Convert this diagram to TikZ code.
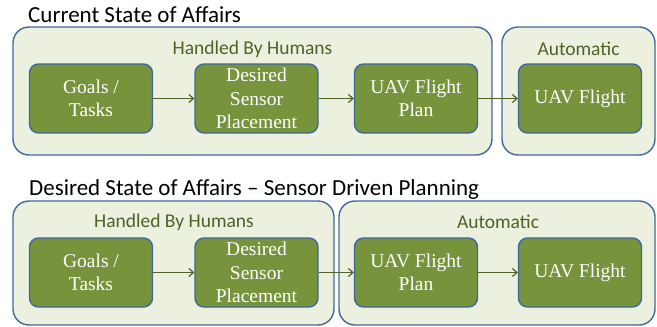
\documentclass[tikz,border=0pt]{standalone}
\usepackage{fontspec}
\setmainfont{Liberation Serif}
\newfontfamily\calibri{Carlito}
\usepackage{xcolor}
\usetikzlibrary{positioning, arrows.meta}
\definecolor{panelfill}{HTML}{EBF1DE}
\definecolor{panelline}{HTML}{41689A}
\definecolor{taskfill}{HTML}{77933C}
\definecolor{oliveink}{HTML}{4F6228}

\tikzset{
  panel/.style={draw=panelline, line width=1.4pt, fill=panelfill,
                rounded corners=16pt},
  taskbox/.style={draw=panelline, line width=1.4pt, fill=taskfill,
                  rounded corners=9pt, minimum width=123pt, minimum height=69pt,
                  inner sep=0pt, align=center, text=white,
                  font=\fontsize{19.5}{23.5}\selectfont},
  panellabel/.style={text=oliveink, font=\calibri\fontsize{19.5}{23}\selectfont},
  heading/.style={anchor=base west, inner sep=0pt,
                  font=\calibri\fontsize{23}{26}\selectfont},
  flow/.style={draw=oliveink, line width=1.2pt,
               -{Straight Barb[length=4.5pt,width=8pt]}}
}

\begin{document}
\begin{tikzpicture}[x=1pt, y=-1pt]
    \useasboundingbox (0,0) rectangle (657,327);

    % current state
    \node[heading] (curtitle) at (28,22.7) {Current State of Affairs};
    \node[panel, minimum width=479pt, minimum height=128pt] (curhumans) at (252.5,91) {};
    \node[panel, minimum width=153pt, minimum height=128pt] (curauto) at (578.5,91) {};
    \node[panellabel] (curhumanslbl) at (252.5,49) {Handled By Humans};
    \node[panellabel] (curautolbl) at (578.5,49) {Automatic};

    \node[taskbox] (curgoals) at (91,98.5) {Goals /\\Tasks};
    \node[taskbox] (curplace) at (256.5,98.5) {Desired\\Sensor\\Placement};
    \node[taskbox] (curplan) at (416,98.5) {UAV Flight\\Plan};
    \node[taskbox] (curflight) at (580,98.5) {UAV Flight};

    \draw[flow] (curgoals) -- (curplace);
    \draw[flow] (curplace) -- (curplan);
    \draw[flow] (curplan) -- (curflight);

    % desired state
    \node[heading] (destitle) at (29,195) {Desired State of Affairs – Sensor Driven Planning};
    \node[panel, minimum width=321pt, minimum height=124pt] (deshumans) at (173.5,263) {};
    \node[panel, minimum width=316pt, minimum height=124pt] (desauto) at (497,263) {};
    \node[panellabel] (deshumanslbl) at (174,222) {Handled By Humans};
    \node[panellabel] (desautolbl) at (498,222) {Automatic};

    \node[taskbox] (desgoals) at (91,272.5) {Goals /\\Tasks};
    \node[taskbox] (desplace) at (256.5,272.5) {Desired\\Sensor\\Placement};
    \node[taskbox] (desplan) at (416,272.5) {UAV Flight\\Plan};
    \node[taskbox] (desflight) at (580,272.5) {UAV Flight};

    \draw[flow] (desgoals) -- (desplace);
    \draw[flow] (desplace) -- (desplan);
    \draw[flow] (desplan) -- (desflight);
\end{tikzpicture}
\end{document}
